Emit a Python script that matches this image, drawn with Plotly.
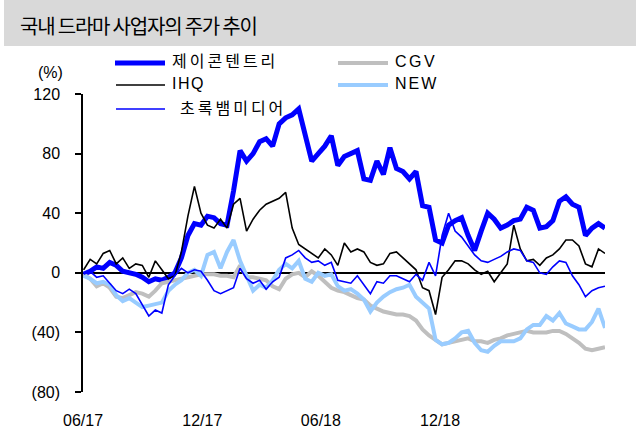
import pandas as pd
import plotly.graph_objects as go

# ---- data (percent change) ----
start_date = "2017-06-02"
n_points = 81
dates = pd.date_range(start_date, periods=n_points, freq="10D")

jcontentree = [-1, 1, 4, 3, 7, 5, 1, 0, -1, -3,
               -6, -4, -5, -3, 0, 10, 25, 33, 32, 38,
               37, 33, 32, 55, 82, 75, 80, 88, 90, 85,
               100, 104, 106, 110, 92, 75, 80, 85, 92, 72,
               78, 80, 82, 63, 62, 75, 66, 84, 70, 68,
               63, 68, 45, 44, 22, 20, 32, 35, 37, 25,
               15, 28, 40, 36, 30, 32, 35, 36, 44, 42,
               30, 31, 35, 48, 51, 46, 44, 25, 30, 33,
               30]

cgv = [-1, -4, -9, -7, -10, -16, -17, -15, -13, -14,
       -16, -12, -7, -6, -5, -4, -3, -2, -1, -1,
       -1, -2, -2, -3, 5, -3, -3, -4, -5, -9,
       -11, -4, -1, 0, -3, 1, -2, -6, -10, -12,
       -13, -15, -17, -18, -22, -24, -26, -27, -28, -28,
       -29, -32, -38, -42, -45, -48, -47, -46, -45, -44,
       -46, -46, -47, -45, -44, -42, -41, -40, -39, -40,
       -40, -40, -39, -39, -41, -44, -47, -51, -52, -51,
       -50]

ihq = [2, 9, 6, 13, 15, 6, 10, 3, 6, 5,
       -3, 8, 2, -4, -2, 14, 38, 58, 40, 32,
       30, 36, 30, 46, 50, 28, 36, 42, 46, 48,
       50, 54, 30, 19, 16, 13, 10, 16, 12, 5,
       20, 14, 16, 14, 7, 5, 6, 13, 14, 10,
       6, 2, -10, -12, -28, -3, 2, 8, 8, 6,
       2, -1, 1, -6, 0, 6, 32, 16, 8, 9,
       5, 10, 12, 16, 22, 22, 18, 6, 4, 16,
       13]

new = [-2, -4, -7, -6, -8, -15, -19, -17, -20, -23,
       -22, -21, -20, -12, -8, -5, 0, 2, -2, 12,
       14, 3, 14, 22, 8, -2, -12, -8, -10, -5,
       2, 6, 3, 8, -4, -6, 0, -2, -1, -9,
       -12, -11, -14, -18, -26, -20, -16, -13, -11, -10,
       -8, -16, -20, -24, -45, -48, -47, -44, -40, -39,
       -47, -52, -53, -49, -46, -46, -46, -44, -38, -35,
       -35, -29, -32, -27, -34, -36, -38, -38, -33, -24,
       -37]

chorokbaem = [-1, 1, -3, -2, -7, -12, -14, -11, -14, -22,
              -29, -25, -27, -8, -2, 3, 0, 2, 1, -5,
              -12, -14, -12, -10, 3, -4, -7, -5, -11, -6,
              -3, 10, 12, 15, 10, 7, 8, 5, 7, -5,
              -6, -7, -2, -8, -14, -6, -7, -2, -2, -4,
              -6, -1, -5, 7, -2, 25, 40, 28, 24, 18,
              12, 8, 7, 9, 11, 14, 16, 15, 8, 7,
              0, -1, 4, 8, 7, -2, -8, -16, -12, -10,
              -9]

series_names = ["제이콘텐트리", "CGV", "IHQ", "NEW", "초록뱀미디어"]
y_tickvals = [120, 80, 40, 0, -40, -80]
y_ticktext = ["120", "80", "40", "0", "(40)", "(80)"]
x_tickvals = ["2017-06-01", "2017-12-01", "2018-06-01", "2018-12-01"]
x_ticktext = ["06/17", "12/17", "06/18", "12/18"]
title_text = "국내 드라마 사업자의 주가 추이"

# ---- styles ----
styles = [
    dict(color="#0000ff", width=5),
    dict(color="#bfbfbf", width=4),
    dict(color="#000000", width=1.6),
    dict(color="#99ccff", width=4),
    dict(color="#0000ff", width=1.6),
]
values = [jcontentree, cgv, ihq, new, chorokbaem]

W, H = 636, 430
L, R, T, B = 83, 31, 94, 38
pw, ph = W - L - R, H - T - B


def px_x(px):
    return (px - L) / pw


def px_y(py):
    return (H - B - py) / ph


FONT = "Liberation Sans, Arial, Noto Sans CJK KR, sans-serif"

fig = go.Figure()
for name, vals, st in zip(series_names, values, styles):
    fig.add_trace(go.Scatter(x=dates, y=vals, mode="lines", name=name,
                             line=dict(color=st["color"], width=st["width"]),
                             showlegend=False, hoverinfo="skip"))

shapes = []
annotations = []

# title band
shapes.append(dict(type="rect", xref="paper", yref="paper",
                   x0=px_x(4), x1=px_x(640), y0=px_y(46), y1=px_y(-2),
                   fillcolor="#d9d9d9", line=dict(width=0), layer="below"))
annotations.append(dict(text='<span style="letter-spacing:-1.2px">' + title_text + '</span>',
                        xref="paper", yref="paper",
                        x=px_x(18), y=px_y(25), xanchor="left", yanchor="middle",
                        showarrow=False,
                        font=dict(family="Noto Sans CJK KR, sans-serif", size=20, color="#000000")))

# unit label
annotations.append(dict(text="(%)", xref="paper", yref="paper",
                        x=px_x(50), y=px_y(72), xanchor="center", yanchor="middle",
                        showarrow=False, font=dict(family=FONT, size=16, color="#000")))

# manual legend (two columns)
legend_pos = [
    (115, 165, 63, 170, 3.0),   # 제이콘텐트리
    (338, 388, 63, 393, 2.5),   # CGV
    (116, 165, 85, 170, 1.5),   # IHQ
    (338, 388, 85, 393, 2.0),   # NEW
    (116, 165, 109, 178, 3.0),  # 초록뱀미디어
]
for name, st, (x0, x1, yy, tx, ls) in zip(series_names, styles, legend_pos):
    shapes.append(dict(type="line", xref="paper", yref="paper",
                       x0=px_x(x0), x1=px_x(x1), y0=px_y(yy), y1=px_y(yy),
                       line=dict(color=st["color"], width=st["width"])))
    annotations.append(dict(text='<span style="letter-spacing:%spx">%s</span>' % (ls, name),
                            xref="paper", yref="paper",
                            x=px_x(tx), y=px_y(yy - 1), xanchor="left", yanchor="middle",
                            showarrow=False, font=dict(family=FONT, size=16, color="#000")))

fig.update_layout(
    width=W, height=H,
    margin=dict(l=L, r=R, t=T, b=B, pad=0),
    paper_bgcolor="white", plot_bgcolor="white",
    font=dict(family=FONT, size=16, color="#000"),
    shapes=shapes, annotations=annotations,
    showlegend=False,
)
fig.update_xaxes(type="date", range=["2017-06-01", "2019-08-11"],
                 tickvals=x_tickvals, ticktext=x_ticktext,
                 showline=False, showgrid=False, zeroline=False,
                 ticks="", ticklabelstandoff=17, automargin=False,
                 tickfont=dict(family=FONT, size=16, color="#000"))
fig.update_yaxes(range=[-80, 120], tickvals=y_tickvals, ticktext=y_ticktext,
                 showline=True, linecolor="#000", linewidth=1.5,
                 ticks="outside", ticklen=6, tickwidth=1.5, tickcolor="#000",
                 showgrid=False, zeroline=True, zerolinecolor="#000", zerolinewidth=1.5,
                 ticklabelstandoff=12, automargin=False,
                 tickfont=dict(family=FONT, size=16, color="#000"))

fig.write_html("out.html", config={"responsive": False, "displayModeBar": False},
               post_script="document.body.style.margin='0';document.body.style.overflow='hidden';")
